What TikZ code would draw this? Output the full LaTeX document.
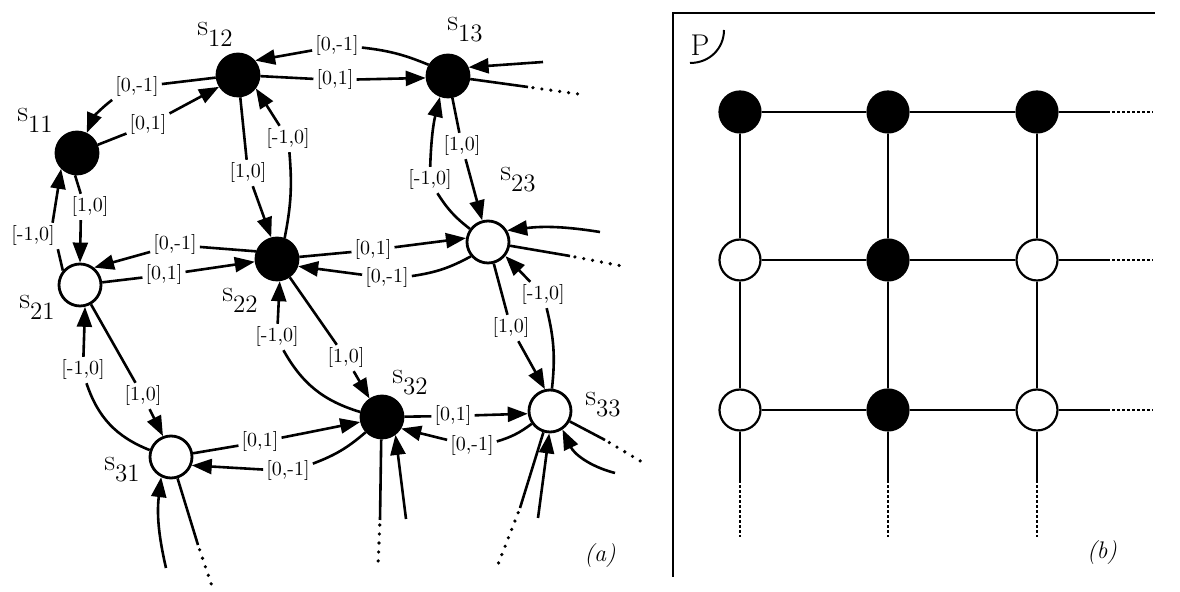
\documentclass[tikz,border=0pt]{standalone}
\usepackage{fontspec}
\usetikzlibrary{arrows.meta}
\tikzset{
  snode/.style={circle, draw, line width=1.4pt, minimum size=21pt, inner sep=0pt},
  full/.style={snode, fill=black},
  hollow/.style={snode, fill=white},
  elab/.style={font=\fontsize{10}{11}\selectfont\addfontfeature{LetterSpace=5}, inner sep=1.4pt},
  nlab/.style={font=\fontsize{15}{17}\selectfont, inner sep=0pt},
  con/.style={line width=1.3pt},
  arr/.style={con, -{Triangle[length=10pt,width=7.5pt]}},
  dotline/.style={line width=1.8pt, line cap=round, dash pattern=on 0pt off 4.5pt, dash phase=2pt},
  gnode/.style={circle, draw, line width=1.1pt, minimum size=20.5pt, inner sep=0pt},
  gline/.style={line width=1pt},
  gdash/.style={line width=1pt, dash pattern=on 1.5pt off 1pt},
  captext/.style={font=\fontsize{12}{13}\selectfont\itshape, inner sep=0pt},
}
\newcommand\snm[1]{s\raisebox{-5.5pt}{\fontsize{12.5}{13}\selectfont #1}}
\begin{document}
\begin{tikzpicture}[x=0.5pt,y=0.5pt]
\fill[white] (0,0) rectangle (1180,-592);
\useasboundingbox (0,0) rectangle (1180,-592);

% ---------- panel (a): states ----------
\node[full]   (s11) at (77,-153) {};
\node[full]   (s12) at (238,-75) {};
\node[full]   (s13) at (448,-76) {};
\node[hollow] (s21) at (80,-285) {};
\node[full]   (s22) at (277,-259) {};
\node[hollow] (s23) at (488,-242) {};
\node[hollow] (s31) at (171,-457) {};
\node[full]   (s32) at (382,-417) {};
\node[hollow] (s33) at (550,-411) {};

\node[nlab] (n11) at (35,-120) {\snm{11}};
\node[nlab] (n12) at (215,-34) {\snm{12}};
\node[nlab] (n13) at (465,-30) {\snm{13}};
\node[nlab] (n21) at (37,-307) {\snm{21}};
\node[nlab] (n22) at (240,-300) {\snm{22}};
\node[nlab] (n23) at (518,-180) {\snm{23}};
\node[nlab] (n31) at (122,-470) {\snm{31}};
\node[nlab] (n32) at (410,-383) {\snm{32}};
\node[nlab] (n33) at (603,-405) {\snm{33}};

% ---------- edge labels ----------
\node[elab] (a1)  at (137,-87)  {[0,-1]};
\node[elab] (a2)  at (148,-125) {[0,1]};
\node[elab] (a3)  at (337,-46)  {[0,-1]};
\node[elab] (a4)  at (335,-80)  {[0,1]};
\node[elab] (a5)  at (248,-173) {[1,0]};
\node[elab] (a6)  at (288,-139) {[-1,0]};
\node[elab] (a7)  at (462,-146) {[1,0]};
\node[elab] (a8)  at (430,-180) {[-1,0]};
\node[elab] (a9)  at (90,-207)  {[1,0]};
\node[elab] (a10) at (33,-236)  {[-1,0]};
\node[elab] (a11) at (175,-245) {[0,-1]};
\node[elab] (a12) at (164,-275) {[0,1]};
\node[elab] (a13) at (373,-250) {[0,1]};
\node[elab] (a14) at (387,-278) {[0,-1]};
\node[elab] (a15) at (346,-358) {[1,0]};
\node[elab] (a16) at (277,-337) {[-1,0]};
\node[elab] (a17) at (83,-370)  {[-1,0]};
\node[elab] (a18) at (143,-396) {[1,0]};
\node[elab] (a19) at (260,-442) {[0,1]};
\node[elab] (a20) at (288,-471) {[0,-1]};
\node[elab] (a21) at (453,-416) {[0,1]};
\node[elab] (a22) at (472,-446) {[0,-1]};
\node[elab] (a23) at (511,-328) {[1,0]};
\node[elab] (a24) at (543,-295) {[-1,0]};

% ---------- connectors ----------
% s11 - s12
\draw[con] (s12) -- (a1);
\draw[arr] (a1) to[bend right=15] (s11.64);
\draw[con] (s11) -- (a2);
\draw[arr] (a2) -- (s12.212);
% s12 - s13
\draw[con] (s13.150) to[bend right=8] (a3);
\draw[arr] (a3) -- (s12.40);
\draw[con] (s12) -- (a4);
\draw[arr] (a4) -- (s13.185);
% s12 - s22
\draw[con] (s12) -- (a5);
\draw[arr] (a5) -- (s22.105);
\draw[con] (s22.70) to[bend right=8] (a6);
\draw[arr] (a6) -- (s12.323);
% s13 - s23
\draw[con] (s13) -- (a7);
\draw[arr] (a7) -- (s23.105);
\draw[con] (s23.144) to[bend left=10] (a8);
\draw[arr] (a8) to[bend left=6] (s13.249);
% s11 - s21
\draw[con] (s11.265) -- (a9.125);
\draw[arr] (a9.235) -- (s21.90);
\draw[con] (s21.140) -- (a10.south east);
\draw[arr] (a10.34) -- (s11.225);
% s21 - s22
\draw[con] (s22.160) -- (a11);
\draw[arr] (a11) -- (s21.51);
\draw[con] (s21) -- (a12);
\draw[arr] (a12) -- (s22.187);
% s22 - s23
\draw[con] (s22) -- (a13);
\draw[arr] (a13) -- (s23.170);
\draw[con] (s23.220) to[bend left=10] (a14);
\draw[arr] (a14) -- (s22.341);
% s22 - s32
\draw[con] (s22) -- (a15);
\draw[arr] (a15) -- (s32.124);
\draw[con] (s32.167) to[bend left=22] (a16);
\draw[arr] (a16) -- (s22.277);
% s21 - s31
\draw[con] (s31.162) to[bend left=25] (a17);
\draw[arr] (a17) -- (s21.283);
\draw[con] (s21) -- (a18);
\draw[arr] (a18) -- (s31.111);
% s31 - s32
\draw[con] (s31) -- (a19);
\draw[arr] (a19) -- (s32.193);
\draw[con] (s32.223) to[bend left=10] (a20);
\draw[arr] (a20) -- (s31.338);
% s32 - s33
\draw[con] (s32) -- (a21);
\draw[arr] (a21) -- (s33.187);
\draw[con] (s33.215) to[bend left=10] (a22);
\draw[arr] (a22) -- (s32.329);
% s23 - s33
\draw[con] (s23) -- (a23);
\draw[arr] (a23) -- (s33.103);
\draw[con] (s33.85) to[bend right=10] (a24);
\draw[arr] (a24) -- (s23.321);

% ---------- open ends ----------
\coordinate (c13i) at (543,-62);
\coordinate (c13o) at (528,-87);
\coordinate (c13e) at (578,-94);
\draw[arr] (c13i) -- (s13.23);
\draw[con] (s13) -- (c13o);
\draw[dotline] (c13o) -- (c13e);

\coordinate (c23i) at (600,-232);
\coordinate (c23o) at (570,-256);
\coordinate (c23e) at (622,-266);
\draw[arr] (c23i) to[bend right=8] (s23.31);
\draw[con] (s23) -- (c23o);
\draw[dotline] (c23o) -- (c23e);

\coordinate (c33i) at (615,-473);
\coordinate (c33o) at (605,-440);
\coordinate (c33e) at (642,-462);
\draw[arr] (c33i) to[bend left=25] (s33.304);
\draw[con] (s33) -- (c33o);
\draw[dotline] (c33o) -- (c33e);

\coordinate (c33u) at (538,-518);
\coordinate (c33d) at (520,-508);
\coordinate (c33f) at (497,-567);
\draw[arr] (c33u) -- (s33.268);
\draw[con] (s33) -- (c33d);
\draw[dotline] (c33d) -- (c33f);

\coordinate (c32u) at (406,-519);
\coordinate (c32d) at (380,-520);
\coordinate (c32f) at (378,-566);
\draw[arr] (c32u) -- (s32.307);
\draw[con] (s32.268) -- (c32d);
\draw[dotline] (c32d) -- (c32f);

\coordinate (c31u) at (166,-568);
\coordinate (c31d) at (198,-545);
\coordinate (c31f) at (214,-592);
\draw[arr] (c31u) to[bend left=10] (s31.244);
\draw[con] (s31) -- (c31d);
\draw[dotline] (c31d) -- (c31f);

\node[captext] (capa) at (600,-556) {(a)};

% ---------- panel (b) ----------
\coordinate (fb) at (673,-577);
\coordinate (fc) at (673,-13);
\coordinate (fr) at (1155,-13);
\draw[line width=1.2pt] (fb) -- (fc) -- (fr);
\node[font=\fontsize{15}{16}\selectfont, inner sep=0pt] (P) at (700,-45) {P};
\coordinate (pa1) at (724,-30);
\coordinate (pa2) at (690,-63);
\draw[line width=1pt] (pa1) .. controls (724,-48) and (710,-63) .. (pa2);

\node[gnode, fill=black] (b11) at (740,-112) {};
\node[gnode, fill=black] (b12) at (888,-112) {};
\node[gnode, fill=black] (b13) at (1037,-112) {};
\node[gnode, fill=white] (b21) at (740,-260) {};
\node[gnode, fill=black] (b22) at (888,-260) {};
\node[gnode, fill=white] (b23) at (1037,-260) {};
\node[gnode, fill=white] (b31) at (740,-410) {};
\node[gnode, fill=black] (b32) at (888,-410) {};
\node[gnode, fill=white] (b33) at (1037,-410) {};

\coordinate (r1e) at (1107,-112); \coordinate (r1f) at (1153,-112);
\coordinate (r2e) at (1107,-260); \coordinate (r2f) at (1153,-260);
\coordinate (r3e) at (1107,-410); \coordinate (r3f) at (1153,-410);
\coordinate (v1e) at (740,-480);  \coordinate (v1f) at (740,-537);
\coordinate (v2e) at (888,-480);  \coordinate (v2f) at (888,-537);
\coordinate (v3e) at (1037,-480); \coordinate (v3f) at (1037,-537);

\draw[gline] (b11) -- (b12) -- (b13) -- (r1e);
\draw[gline] (b21) -- (b22) -- (b23) -- (r2e);
\draw[gline] (b31) -- (b32) -- (b33) -- (r3e);
\draw[gline] (b11) -- (b21) -- (b31) -- (v1e);
\draw[gline] (b12) -- (b22) -- (b32) -- (v2e);
\draw[gline] (b13) -- (b23) -- (b33) -- (v3e);
\draw[gdash] (r1e) -- (r1f);
\draw[gdash] (r2e) -- (r2f);
\draw[gdash] (r3e) -- (r3f);
\draw[gdash] (v1e) -- (v1f);
\draw[gdash] (v2e) -- (v2f);
\draw[gdash] (v3e) -- (v3f);

\node[captext] (capb) at (1102,-553) {(b)};
\end{tikzpicture}
\end{document}
